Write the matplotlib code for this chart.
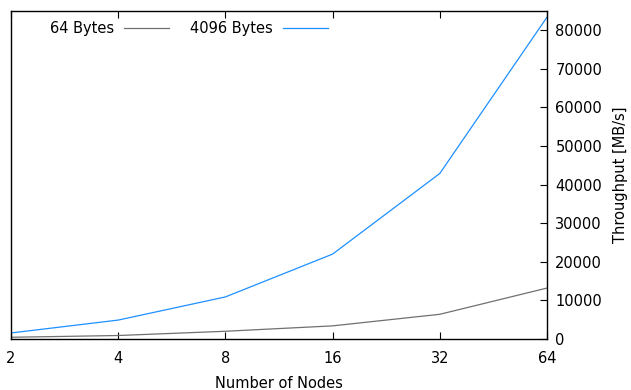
import matplotlib
matplotlib.use('Agg')
import matplotlib.pyplot as plt
import matplotlib.ticker as mticker

# Число узлов и пропускная способность для двух размеров сообщений
nodes = [2, 4, 8, 16, 32, 64]
tp_64 = [450, 900, 2000, 3400, 6400, 13200]
tp_4096 = [1560, 4900, 10900, 22000, 42900, 83400]

fig = plt.figure(figsize=(6.31, 3.9), dpi=100)
ax = fig.add_axes([0.0174, 0.1308, 0.8495, 0.841])

ax.plot(nodes, tp_64, color='#707070', linewidth=0.9, label='64 Bytes')
ax.plot(nodes, tp_4096, color='#1e90ff', linewidth=0.9, label='4096 Bytes')

ax.set_xscale('log', base=2)
ax.set_xlim(2, 64)
ax.set_ylim(0, 85000)
ax.xaxis.set_major_locator(mticker.FixedLocator(nodes))
ax.xaxis.set_major_formatter(mticker.FixedFormatter([str(n) for n in nodes]))
ax.xaxis.set_minor_locator(mticker.NullLocator())
ax.yaxis.set_major_locator(mticker.MultipleLocator(10000))

ax.yaxis.tick_right()
ax.yaxis.set_label_position('right')
ax.tick_params(axis='x', direction='in', top=True, bottom=True, labelsize=10.5, pad=9, length=5)
ax.tick_params(axis='y', direction='in', left=False, right=True, labelsize=10.5, pad=6, length=5)

ax.set_xlabel('Number of Nodes', fontsize=10.5, labelpad=7)
ax.set_ylabel('Throughput [MB/s]', fontsize=10.5, labelpad=8)

for s in ax.spines.values():
    s.set_linewidth(1.0)

ax.legend(loc='upper left', ncol=2, frameon=False, markerfirst=False,
          fontsize=10.5, handlelength=3.1, handletextpad=0.7, columnspacing=1.4,
          bbox_to_anchor=(0.048, 1.01))

fig.savefig('out.png', dpi=100)
